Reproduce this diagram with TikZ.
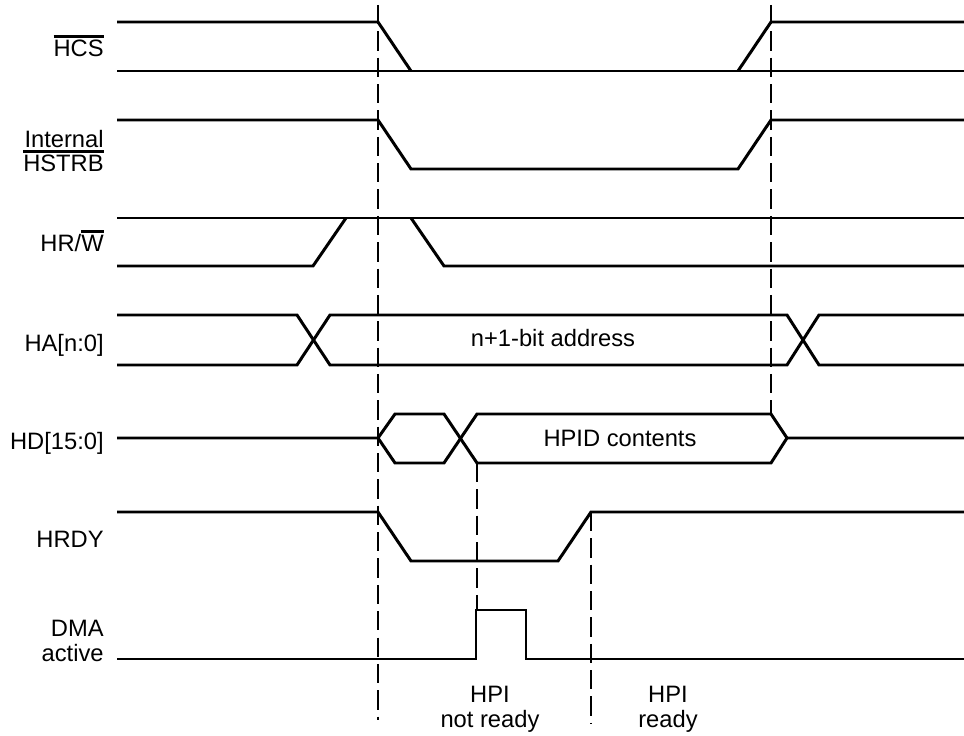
\documentclass[tikz,border=0pt]{standalone}
\usepackage{fontspec}
\setmainfont{Liberation Sans}

% bar over an active-low signal name
\newcommand{\barsig}[1]{\setbox0\hbox{#1}%
    \rlap{\rule[\dimexpr\ht0+1.6pt\relax]{\wd0}{1.6pt}}\box0}

\begin{document}
\begin{tikzpicture}[
        x=0.02cm, y=-0.02cm,
        font=\fontsize{13.5}{14.2}\selectfont,
        signal/.style={
            line width=1.7pt,
            line join=miter
        },
        guide/.style={
            line width=0.6pt,
            dash pattern=on 11pt off 4pt
        },
        signame/.style={
            anchor=base east,
            inner sep=0pt,
            align=right
        },
        phase/.style={
            anchor=base,
            inner sep=0pt,
            align=center
        }
    ]
        \useasboundingbox (0,0) rectangle (964,736);

        % Reference edges
        \draw[guide] (378,5) -- (378,720);
        \draw[guide] (771,5) -- (771,414);
        \draw[guide] (477,463) -- (477,610);
        \draw[guide] (591,512) -- (591,723);

        % Signal names (base = last line)
        \node[signame] (hcs) at (104,57) {\barsig{HCS}};
        \node[signame] (hstrb) at (104,172) {Internal\\\barsig{HSTRB}};
        \node[signame] (hrw) at (104,252) {HR/\barsig{W}};
        \node[signame] (ha) at (104,352) {HA[n:0]};
        \node[signame] (hd) at (104,450) {HD[15:0]};
        \node[signame] (hrdy) at (104,547) {HRDY};
        \node[signame] (dma) at (104,661) {DMA\\active};

        % HCS
        \draw[signal] (117,22) -- (378,22) -- (411,71);
        \draw[signal] (117,71) -- (964,71);
        \draw[signal] (738,71) -- (771,22) -- (964,22);

        % Internal HSTRB
        \draw[signal] (117,120) -- (378,120) -- (411,169) -- (738,169)
            -- (771,120) -- (964,120);

        % HR/W
        \draw[signal] (117,218) -- (964,218);
        \draw[signal] (117,266) -- (313,266) -- (346,218);
        \draw[signal] (411,218) -- (444,266) -- (964,266);

        % HA[n:0]
        \draw[signal] (117,315) -- (297,315) -- (330,365) -- (787,365)
            -- (819,315) -- (964,315);
        \draw[signal] (117,365) -- (297,365) -- (330,315) -- (787,315)
            -- (819,365) -- (964,365);
        \node[phase] (addr) at (553,347) {n+1-bit address};

        % HD[15:0]
        \draw[signal] (117,438) -- (378,438) -- (395,414) -- (444,414)
            -- (477,463) -- (771,463) -- (787,438) -- (964,438);
        \draw[signal] (378,438) -- (395,463) -- (444,463) -- (477,414)
            -- (771,414) -- (787,438);
        \node[phase] (hpid) at (620,447) {HPID contents};

        % HRDY
        \draw[signal] (117,512) -- (378,512) -- (411,561) -- (558,561)
            -- (591,512) -- (964,512);

        % DMA active
        \draw[signal] (117,659) -- (476,659) -- (476,610) -- (526,610)
            -- (526,659) -- (964,659);

        % Phases
        \node[phase] (notready) at (490,727) {HPI\\not ready};
        \node[phase] (ready) at (668,727) {HPI\\ready};
    \end{tikzpicture}
\end{document}
